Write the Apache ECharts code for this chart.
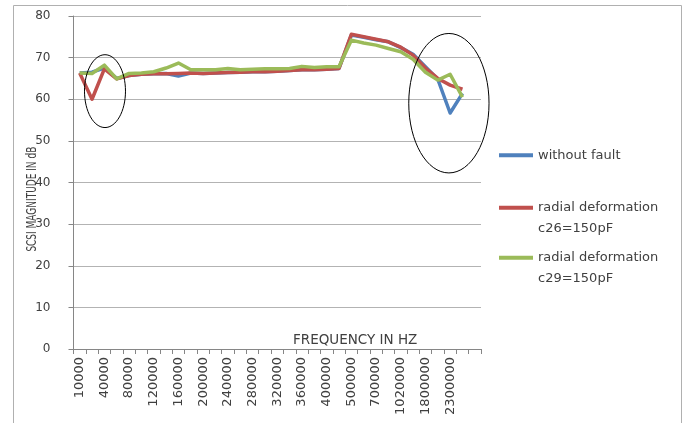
<!DOCTYPE html>
<html>
<head>
<meta charset="utf-8">
<script src="https://cdn.jsdelivr.net/npm/echarts@6/dist/echarts.min.js"></script>
<style>
html,body{margin:0;padding:0;background:#fff;}
#c{width:688px;height:423px;}
</style>
</head>
<body>
<div id="c"></div>
<script>
// ---- data ----
const frequencies = ['10000','20000','40000','60000','80000','100000','120000','140000','160000','180000',
  '200000','220000','240000','260000','280000','300000','320000','340000','360000','380000',
  '400000','450000','500000','600000','700000','800000','1020000','1500000','1800000','2000000',
  '2300000','2500000','3000000'];
const withoutFault = [66.3,66.5,67.5,65.0,65.7,66.0,66.1,66.2,65.6,66.3,
  66.2,66.3,66.4,66.5,66.6,66.6,66.7,66.9,67.1,67.1,
  67.2,67.4,75.4,74.9,74.3,73.8,72.4,70.8,67.8,64.8,
  56.7,61.4,null];
const radialC26 = [66.3,60.0,67.3,64.9,65.7,66.0,66.1,66.1,66.2,66.3,
  66.2,66.3,66.4,66.5,66.6,66.6,66.7,66.9,67.1,67.1,
  67.2,67.4,75.6,75.0,74.4,73.8,72.5,70.6,67.5,65.0,
  63.4,62.4,null];
const radialC29 = [66.3,66.2,68.2,64.9,66.2,66.3,66.6,67.5,68.7,67.1,
  67.1,67.1,67.4,67.1,67.2,67.3,67.3,67.4,67.9,67.6,
  67.8,67.8,74.2,73.5,73.0,72.2,71.4,69.6,66.5,64.6,
  66.0,60.5,null];
const seriesNames = ['without fault','radial deformation c26=150pF','radial deformation c29=150pF'];
const yTicks = [0,10,20,30,40,50,60,70,80];
const labelledCount = 31; // last two categories carry no tick label

const FONT = 'DejaVu Sans';
const TXT = '#404040';
const chart = echarts.init(document.getElementById('c'), null, {renderer:'canvas'});

function legendFmt(name){
  if (name === seriesNames[0]) return name;
  const i = name.indexOf(' c');
  return ' \n' + name.slice(0,i) + '\n' + name.slice(i+1);
}
function mkLegend(name, top){
  return {
    data:[name], orient:'vertical', left:499, top:top, padding:0,
    itemWidth:34, itemHeight:4, icon:'rect',
    formatter:legendFmt,
    textStyle:{fontFamily:FONT, fontSize:13, color:TXT, lineHeight:20.5}
  };
}

const option = {
  animation:false,
  backgroundColor:'#fff',
  color:['#4F81BD','#C0504D','#9BBB59'],
  title:{
    text:'FREQUENCY IN HZ', left:293, top:333, padding:0,
    textStyle:{fontFamily:FONT, fontSize:13.5, fontWeight:'normal', color:TXT}
  },
  legend:[mkLegend(seriesNames[0],145), mkLegend(seriesNames[1],177), mkLegend(seriesNames[2],227)],
  grid:{left:73.5, right:207, top:16, bottom:74, containLabel:false},
  xAxis:{
    type:'category', data:frequencies, boundaryGap:true,
    axisLine:{lineStyle:{color:'#868686', width:1}},
    axisTick:{show:true, interval:0, length:5, lineStyle:{color:'#868686'}},
    axisLabel:{interval:function(i){ return i % 2 === 0 && i < labelledCount; },
      rotate:90, margin:8, fontFamily:FONT, fontSize:13, color:TXT},
    splitLine:{show:false}
  },
  yAxis:{
    type:'value', min:yTicks[0], max:yTicks[yTicks.length-1], interval:10,
    axisLine:{show:true, lineStyle:{color:'#868686', width:1}},
    axisTick:{show:true, length:5, inside:false, lineStyle:{color:'#868686'}},
    axisLabel:{margin:23, fontFamily:FONT, fontSize:12, color:TXT},
    splitLine:{show:true, lineStyle:{color:'#b3b3b3', width:1}}
  },
  series:[
    {name:seriesNames[0], type:'line', data:withoutFault, symbol:'none', lineStyle:{width:3.5, join:'round'}, z:2},
    {name:seriesNames[1], type:'line', data:radialC26, symbol:'none', lineStyle:{width:3.5, join:'round'}, z:3},
    {name:seriesNames[2], type:'line', data:radialC29, symbol:'none', lineStyle:{width:3.5, join:'round'}, z:4}
  ]
};
chart.setOption(option);

// annotation ellipses placed through the chart's own scales
function px(idx, val){ return chart.convertToPixel({xAxisIndex:0,yAxisIndex:0},[idx,val]); }
const band = px(3,0)[0] - px(2,0)[0];
function ellipse(idx, dx, vTop, vBot, rBands){
  const top = px(idx, vTop), bot = px(idx, vBot);
  return {
    type:'ellipse', silent:true, z:100,
    shape:{cx: top[0] + dx*band, cy:(top[1]+bot[1])/2, rx:rBands*band, ry:(bot[1]-top[1])/2},
    style:{fill:'none', stroke:'#000', lineWidth:1}
  };
}
const yMid = px(0, 36)[1];
chart.setOption({
  graphic:[
    {type:'rect', silent:true, z:-1, shape:{x:13.5, y:5.5, width:668, height:440}, style:{fill:'none', stroke:'#b0b0b0', lineWidth:1}},
    {type:'text', silent:true, x:32, y:yMid, rotation:Math.PI/2, scaleX:0.62,
      style:{text:'SCSI MAGNITUDE IN dB', font:'14.5px DejaVu Sans', fill:TXT, align:'center', verticalAlign:'middle'}},
    ellipse(2, 0.05, 70.7, 53.2, 1.66),
    ellipse(30, -0.1, 75.8, 42.3, 3.25)
  ]
});
</script>
</body>
</html>
